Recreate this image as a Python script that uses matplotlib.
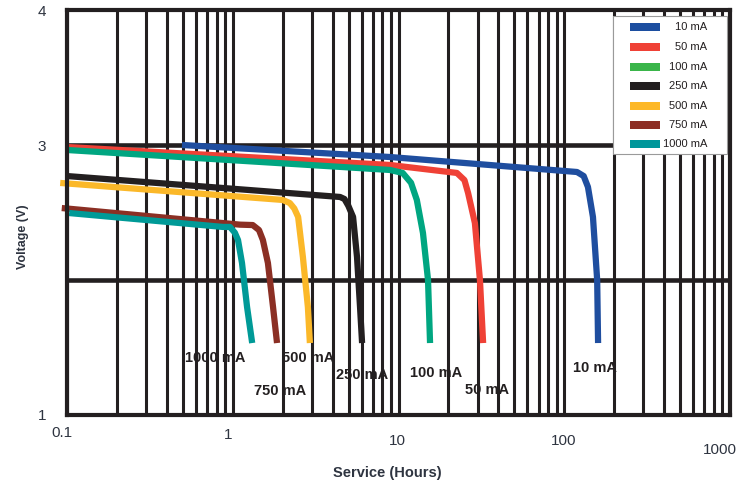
import matplotlib
matplotlib.use("Agg")
import matplotlib.pyplot as plt
from matplotlib.patches import Rectangle

plt.rcParams['font.family'] = ['Liberation Sans', 'DejaVu Sans']

# ---------------- data ----------------
series_names = ["10 mA", "50 mA", "100 mA", "250 mA", "500 mA", "750 mA", "1000 mA"]

hours_10 = [0.494, 8.89, 119.4, 131.0, 139.0, 149.0, 158.0, 160.0]
volts_10 = [3.00, 2.911, 2.80, 2.77, 2.689, 2.467, 2.00, 1.533]

hours_50 = [0.1, 8.89, 22.5, 25.0, 26.3, 28.9, 31.0, 32.4]
volts_50 = [2.985, 2.852, 2.793, 2.74, 2.644, 2.422, 2.00, 1.533]

hours_100 = [0.1, 8.89, 10.6, 11.9, 12.9, 14.05, 15.07, 15.5]
volts_100 = [2.963, 2.815, 2.793, 2.72, 2.593, 2.348, 2.00, 1.533]

hours_250 = [0.1, 4.44, 4.72, 4.98, 5.32, 5.62, 5.86, 6.03]
volts_250 = [2.77, 2.615, 2.60, 2.55, 2.467, 2.17, 1.80, 1.533]

hours_500 = [0.091, 2.0, 2.21, 2.35, 2.48, 2.65, 2.84, 2.92]
volts_500 = [2.719, 2.593, 2.57, 2.53, 2.467, 2.17, 1.80, 1.533]

hours_750 = [0.093, 1.106, 1.32, 1.44, 1.52, 1.63, 1.75, 1.85]
volts_750 = [2.533, 2.41, 2.407, 2.37, 2.296, 2.126, 1.80, 1.533]

hours_1000 = [0.103, 0.873, 0.962, 1.03, 1.076, 1.137, 1.22, 1.31]
volts_1000 = [2.496, 2.393, 2.393, 2.35, 2.296, 2.126, 1.80, 1.533]

line_colors = ["#1f4e9f", "#ef4136", "#00a681", "#231f20", "#fbb829", "#8b2f24", "#009a97"]
legend_colors = ["#1c4ea0", "#ef4136", "#3ab54a", "#231f20", "#fdb827", "#8c2d24", "#00979a"]

# curve label positions (hours, volts)
label_hours = [153.6, 34.2, 16.8, 6.03, 2.84, 1.93, 0.78]
label_volts = [1.348, 1.185, 1.311, 1.296, 1.422, 1.178, 1.422]

x_tick_vals = [0.1, 1, 10, 100, 1000]
x_tick_labels = ["0.1", "1", "10", "100", "1000"]
y_tick_vals = [1, 2, 3, 4]
y_tick_labels = ["1", "", "3", "4"]

all_hours = [hours_10, hours_50, hours_100, hours_250, hours_500, hours_750, hours_1000]
all_volts = [volts_10, volts_50, volts_100, volts_250, volts_500, volts_750, volts_1000]

# ---------------- figure ----------------
W, H = 751, 487
fig = plt.figure(figsize=(W / 100, H / 100), dpi=100)
L, R, T, B = 67, 730, 10, 415
ax = fig.add_axes([L / W, 1 - B / H, (R - L) / W, (B - T) / H])
ax.set_xscale('log')
ax.set_xlim(0.1, 1000)
ax.set_ylim(1, 4)

dark = "#231f20"
# vertical grid: every k*10^n
minor = [k * 10 ** n for n in range(-1, 3) for k in range(1, 10)]
for v in minor:
    ax.axvline(v, color=dark, lw=2.2, zorder=1)
for v in [2, 3]:
    ax.axhline(v, color=dark, lw=3.3, zorder=1)

for s in ax.spines.values():
    s.set_color(dark)
    s.set_linewidth(3.0)
    s.set_zorder(5)

ax.set_xticks([])
ax.set_xticks([], minor=True)
ax.set_yticks(y_tick_vals)
ax.set_yticklabels(y_tick_labels)
ax.tick_params(axis='y', length=0, pad=15, labelsize=11, labelcolor="#2e3440")

# x tick labels
x_offsets = [(-5, -18), (-5, -20), (-1, -26), (-1, -26), (-10, -35)]
for v, lab, (dx, dy) in zip(x_tick_vals, x_tick_labels, x_offsets):
    ax.annotate(lab, xy=(v, 0), xycoords=ax.get_xaxis_transform(),
                xytext=(dx, dy), textcoords='offset pixels',
                ha='center', va='center', fontsize=11, color="#2e3440",
                annotation_clip=False)

# curves
for hrs, vts, c in zip(all_hours, all_volts, line_colors):
    ax.plot(hrs, vts, color=c, lw=4.5, solid_capstyle='butt',
            solid_joinstyle='round', zorder=3, clip_on=False)

# curve labels
for name, hx, vy in zip(series_names, label_hours, label_volts):
    ax.text(hx, vy, name, ha='center', va='center', fontsize=10.5,
            fontweight='bold', color=dark, zorder=6)

# legend (manual)
def ax_xy(px, py):
    return ((px - L) / (R - L), (B - py) / (B - T))

x0, y0 = ax_xy(613, 154)
x1, y1 = ax_xy(727, 16)
ax.add_patch(Rectangle((x0, y0), x1 - x0, y1 - y0, transform=ax.transAxes,
                       facecolor='white', edgecolor='#9a9a9a', lw=0.8, zorder=7))
row_y = [27, 47, 67, 86, 106, 125, 144]
for name, c, py in zip(series_names, legend_colors, row_y):
    px0, pyc = ax_xy(630, py + 4)
    px1, pyt = ax_xy(660, py - 4)
    ax.add_patch(Rectangle((px0, pyc), px1 - px0, pyt - pyc, transform=ax.transAxes,
                           facecolor=c, edgecolor='none', zorder=8))
    tx, ty = ax_xy(707, py)
    ax.text(tx, ty, name, transform=ax.transAxes, ha='right', va='center',
            fontsize=8, color=dark, zorder=9)

# axis titles
fig.text(23 / W, 1 - 237 / H, "Voltage (V)", rotation=90, ha='center', va='center',
         fontsize=9, fontweight='bold', color="#2e3440")
fig.text(387 / W, 1 - 473 / H, "Service (Hours)", ha='center', va='center',
         fontsize=10.5, fontweight='bold', color="#2e3440")

fig.savefig("out.png", dpi=100)
